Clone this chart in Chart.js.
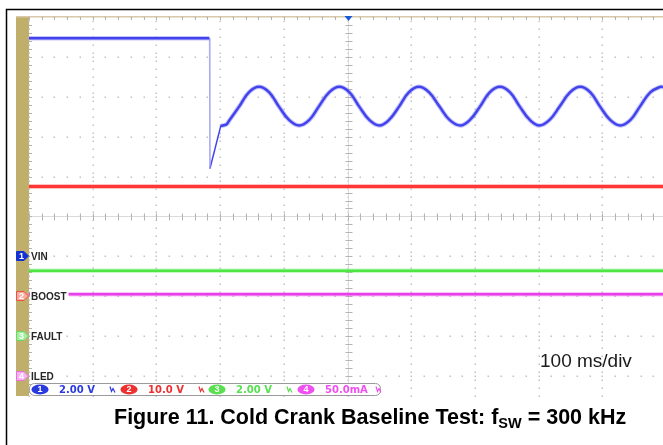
<!DOCTYPE html>
<html>
<head>
<meta charset="utf-8">
<script src="https://cdn.jsdelivr.net/npm/chart.js@4.4.1/dist/chart.umd.min.js"></script>
<style>
  html, body { margin: 0; padding: 0; background: #fff; }
  #wrap { width: 663px; height: 445px; position: relative; overflow: hidden; }
</style>
</head>
<body>
<div id="wrap"><canvas id="scope" width="663" height="445"></canvas></div>
<script>
// graticule, in divisions
var divX = [0, 1, 2, 3, 4, 5, 6, 7, 8, 9, 10];
var divY = [-4, -3, -2, -1, 0, 1, 2, 3, 4, 5];

// channels
var chNames = ['VIN', 'BOOST', 'FAULT', 'ILED'];
var chOffsets = [-1, -2, -3, -4];
var chScales = ['2.00 V', '10.0 V', '2.00 V', '50.0mA'];
var timebase = '100 ms/div';
var caption = ['Figure 11. Cold Crank Baseline Test: f', 'SW', ' = 300 kHz'];

// CH1 VIN (div)
var vinPreX = [0, 2.83];
var vinPreY = [4.47, 4.47];
var vinDropX = [2.83, 2.84];
var vinDropY = [4.47, 1.2];
var vinRecX = [2.84, 3.01];
var vinRecY = [1.2, 2.27];
var vinRippleX = [3.01, 3.10, 3.14, 3.30, 3.45, 3.61, 3.77, 3.92, 4.08, 4.24, 4.40, 4.55, 4.71, 4.87, 5.03, 5.18, 5.34, 5.50,
  5.65, 5.81, 5.96, 6.12, 6.28, 6.44, 6.60, 6.77, 6.92, 7.08, 7.23, 7.39, 7.55, 7.70, 7.86, 8.01, 8.17, 8.33, 8.49, 8.65,
  8.81, 8.96, 9.12, 9.28, 9.44, 9.59, 9.75, 9.91, 9.95];
var vinRippleY = [2.27, 2.31, 2.40, 2.76, 3.11, 3.25, 3.11, 2.76, 2.42, 2.28, 2.42, 2.76, 3.11, 3.25, 3.11, 2.76, 2.42, 2.28,
  2.42, 2.76, 3.11, 3.25, 3.11, 2.76, 2.42, 2.28, 2.42, 2.76, 3.11, 3.25, 3.11, 2.76, 2.42, 2.28, 2.42, 2.76, 3.11, 3.25,
  3.11, 2.76, 2.42, 2.28, 2.42, 2.76, 3.11, 3.25, 3.24];

// CH2 BOOST, CH3 FAULT, CH4 ILED
var boostX = [0, 9.95];
var boostY = [0.75, 0.75];
var faultX = [0, 9.95];
var faultY = [-1.36, -1.36];
var iledX = [0, 9.95];
var iledY = [-1.95, -1.95];

function pts(xs, ys) {
  return xs.map(function(x, i) { return {x: x, y: ys[i]}; });
}

// scope traces are fuzzy, so each one gets a light wide pass under a solid one
function trace(xs, ys, color, halo, width, tension) {
  return [
    {data: pts(xs, ys), borderColor: halo, borderWidth: width + 2, tension: tension || 0},
    {data: pts(xs, ys), borderColor: color, borderWidth: width, tension: tension || 0}
  ];
}

var datasets = [].concat(
  trace(boostX, boostY, 'rgba(255,30,30,0.95)', 'rgba(255,80,80,0.35)', 3),
  trace(faultX, faultY, 'rgba(60,225,50,0.95)', 'rgba(90,235,80,0.35)', 2.5),
  trace(iledX, iledY, 'rgba(230,40,230,0.95)', 'rgba(235,90,235,0.35)', 2.5),
  trace(vinPreX, vinPreY, 'rgba(45,45,235,0.95)', 'rgba(90,90,240,0.35)', 2.5),
  [{data: pts(vinDropX, vinDropY), borderColor: 'rgba(150,150,240,0.6)', borderWidth: 1}],
  [{data: pts(vinRecX, vinRecY), borderColor: 'rgba(45,45,235,0.9)', borderWidth: 1.5}],
  trace(vinRippleX, vinRippleY, 'rgba(45,45,235,0.95)', 'rgba(90,90,240,0.35)', 2.5, 0.4)
);

var scopeFrame = {
  id: 'scopeFrame',
  beforeDraw: function(chart) {
    var ctx = chart.ctx, a = chart.chartArea;
    ctx.save();
    ctx.fillStyle = '#fff';
    ctx.fillRect(0, 0, chart.width, chart.height);
    // outer frame
    ctx.strokeStyle = '#000';
    ctx.lineWidth = 1.5;
    ctx.beginPath();
    ctx.moveTo(6.5, 445);
    ctx.lineTo(6.5, 9.5);
    ctx.lineTo(663, 9.5);
    ctx.stroke();
    // side strip
    ctx.fillStyle = '#c0af6b';
    ctx.fillRect(16, a.top - 1, a.left - 16, a.bottom - a.top + 1);
    // top edge
    ctx.fillStyle = '#d9c9a6';
    ctx.fillRect(16, a.top - 1, chart.width - 16, 1.5);
    ctx.restore();
  },
  beforeDatasetsDraw: function(chart) {
    var ctx = chart.ctx, a = chart.chartArea;
    var xs = chart.scales.x, ys = chart.scales.y;
    var k, px, py;
    ctx.save();
    ctx.fillStyle = '#c2c2c2';
    // dotted verticals
    divX.forEach(function(d) {
      px = xs.getPixelForValue(d);
      if (px > a.right + 1) return;
      for (k = divY[0] - 0.5; k <= divY[divY.length - 1]; k += 0.2) {
        py = ys.getPixelForValue(k);
        if (py < a.top || py > a.bottom) continue;
        ctx.fillRect(Math.round(px) - 0.5, Math.round(py) - 0.5, 1.5, 1.5);
      }
    });
    // dotted horizontals
    divY.forEach(function(d) {
      py = ys.getPixelForValue(d);
      for (k = 0; k <= 10; k += 0.2) {
        px = xs.getPixelForValue(k);
        if (px > a.right) continue;
        ctx.fillRect(Math.round(px) - 0.5, Math.round(py) - 0.5, 1.5, 1.5);
      }
    });
    // centre crosshair
    var cx = Math.round(xs.getPixelForValue(5)) + 0.5;
    var cy = Math.round(ys.getPixelForValue(0)) + 0.5;
    ctx.strokeStyle = '#dadada';
    ctx.lineWidth = 1;
    ctx.beginPath();
    ctx.moveTo(cx, a.top); ctx.lineTo(cx, a.bottom);
    ctx.moveTo(a.left, cy); ctx.lineTo(a.right, cy);
    ctx.stroke();
    ctx.strokeStyle = '#b4b4b4';
    ctx.beginPath();
    for (k = -4.4; k <= 5; k += 0.2) {
      py = Math.round(ys.getPixelForValue(k)) + 0.5;
      ctx.moveTo(cx - 3, py); ctx.lineTo(cx + 4, py);
      ctx.moveTo(a.left, py); ctx.lineTo(a.left + 3, py);
    }
    for (k = 0; k <= 10; k += 0.2) {
      px = Math.round(xs.getPixelForValue(k)) + 0.5;
      ctx.moveTo(px, cy - 3); ctx.lineTo(px, cy + 4);
      ctx.moveTo(px, a.top); ctx.lineTo(px, a.top + 3);
    }
    ctx.stroke();
    // trigger position
    ctx.fillStyle = '#1a5ad8';
    ctx.beginPath();
    ctx.moveTo(cx - 4, a.top - 1); ctx.lineTo(cx + 4, a.top - 1); ctx.lineTo(cx, a.top + 4);
    ctx.closePath();
    ctx.fill();
    ctx.restore();
  },
  afterDatasetsDraw: function(chart) {
    var ctx = chart.ctx, a = chart.chartArea;
    var ys = chart.scales.y;
    var fills = ['#1432d2', '#f6aca2', '#a4eea0', '#f7b2f2'];
    var edges = ['#1432d2', '#e8543f', '#6ad862', '#e870e0'];
    var inks = ['#2a3ade', '#ee3030', '#58e050', '#f050f0'];
    ctx.save();
    // channel ground markers + names
    chNames.forEach(function(name, i) {
      var y = Math.round(ys.getPixelForValue(chOffsets[i]));
      ctx.fillStyle = '#fff';
      ctx.font = 'bold 10px "Liberation Sans", Arial, sans-serif';
      var w = ctx.measureText(name).width;
      ctx.fillRect(a.left + 1, y - 5, w + 3, 10);
      ctx.fillStyle = '#262626';
      ctx.textBaseline = 'middle';
      ctx.fillText(name, a.left + 2, y + 1);
      ctx.beginPath();
      ctx.moveTo(16.5, y - 4.5);
      ctx.lineTo(24, y - 4.5);
      ctx.lineTo(28.5, y);
      ctx.lineTo(24, y + 4.5);
      ctx.lineTo(16.5, y + 4.5);
      ctx.closePath();
      ctx.fillStyle = fills[i];
      ctx.fill();
      ctx.strokeStyle = edges[i];
      ctx.lineWidth = 1;
      ctx.stroke();
      ctx.fillStyle = '#fff';
      ctx.font = 'bold 9px "Liberation Sans", Arial, sans-serif';
      ctx.textAlign = 'center';
      ctx.fillText(String(i + 1), 21.5, y + 0.5);
      ctx.textAlign = 'left';
    });
    // scale readout bar
    var bx = 29.5, by = 383.5, bw = 351, bh = 12;
    ctx.fillStyle = '#fff';
    ctx.strokeStyle = '#9a9a9a';
    ctx.lineWidth = 1;
    ctx.beginPath();
    ctx.roundRect(bx, by, bw, bh, 5);
    ctx.fill();
    ctx.stroke();
    var starts = [32, 121, 209, 298];
    chScales.forEach(function(s, i) {
      var x0 = starts[i];
      ctx.fillStyle = inks[i];
      ctx.beginPath();
      ctx.ellipse(x0 + 8, by + 6, 8.5, 5, 0, 0, Math.PI * 2);
      ctx.fill();
      ctx.fillStyle = '#fff';
      ctx.font = 'bold 9px "Liberation Sans", Arial, sans-serif';
      ctx.textAlign = 'center';
      ctx.textBaseline = 'middle';
      ctx.fillText(String(i + 1), x0 + 8, by + 6.5);
      ctx.textAlign = 'left';
      ctx.fillStyle = inks[i];
      ctx.font = 'bold 10px "DejaVu Sans", sans-serif';
      ctx.fillText(s, x0 + 27, by + 6.5);
      // bandwidth squiggle
      var sx = x0 + 78;
      ctx.strokeStyle = inks[i];
      ctx.lineWidth = 1.2;
      ctx.beginPath();
      ctx.moveTo(sx, by + 3);
      ctx.lineTo(sx + 1.5, by + 8);
      ctx.lineTo(sx + 3, by + 5);
      ctx.lineTo(sx + 5, by + 9);
      ctx.stroke();
    });
    // time base
    ctx.fillStyle = '#1a1a1a';
    ctx.textBaseline = 'alphabetic';
    ctx.font = '19px "Liberation Sans", Arial, sans-serif';
    ctx.fillText(timebase, 540, 367);
    // caption
    var big = 'bold 21.5px "Liberation Sans", Arial, sans-serif';
    var small = 'bold 14.5px "Liberation Sans", Arial, sans-serif';
    ctx.fillStyle = '#000';
    var cxp = 114, base = 424;
    ctx.font = big;
    ctx.fillText(caption[0], cxp, base);
    cxp += ctx.measureText(caption[0]).width;
    ctx.font = small;
    ctx.fillText(caption[1], cxp, base + 4);
    cxp += ctx.measureText(caption[1]).width;
    ctx.font = big;
    ctx.fillText(caption[2], cxp, base);
    ctx.restore();
  }
};

new Chart(document.getElementById('scope'), {
  type: 'line',
  data: {datasets: datasets},
  options: {
    responsive: false,
    animation: false,
    events: [],
    layout: {padding: {left: 29, top: 17, right: 0, bottom: 49}},
    elements: {
      point: {radius: 0},
      line: {borderJoinStyle: 'round', borderCapStyle: 'butt', fill: false}
    },
    plugins: {legend: {display: false}, tooltip: {enabled: false}},
    scales: {
      x: {type: 'linear', min: 0, max: 9.95, display: false},
      y: {type: 'linear', min: -4.5, max: 5, display: false}
    }
  },
  plugins: [scopeFrame]
});
</script>
</body>
</html>
